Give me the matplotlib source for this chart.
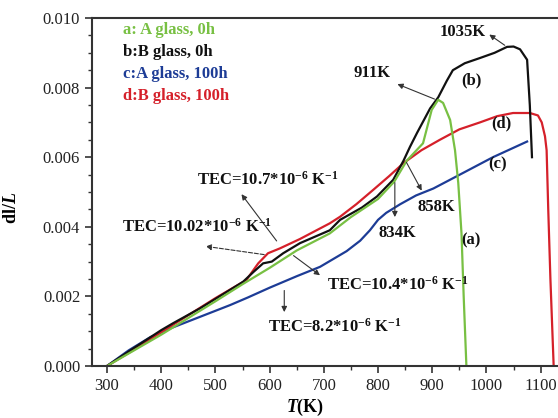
import matplotlib
matplotlib.use("Agg")
import matplotlib.pyplot as plt
from matplotlib.ticker import MultipleLocator, FormatStrFormatter

plt.rcParams['font.family'] = ['Liberation Serif', 'DejaVu Serif']
plt.rcParams['mathtext.fontset'] = 'custom'
plt.rcParams['mathtext.rm'] = 'Liberation Serif:bold'
plt.rcParams['mathtext.it'] = 'Liberation Serif:italic:bold'
plt.rcParams['mathtext.bf'] = 'Liberation Serif:bold'

# ---- data ----
T_a = [300, 350, 400, 450, 500, 550, 600, 650, 711, 750, 800, 830, 853, 877, 883, 899, 911, 920, 933, 942, 948, 954, 958, 963]
L_a = [0, 0.00045, 0.0009, 0.00138, 0.00186, 0.00235, 0.00282, 0.00332, 0.00381, 0.00428, 0.0048, 0.0053, 0.0059, 0.0063, 0.0064, 0.00736, 0.00765, 0.00756, 0.00707, 0.0062, 0.00526, 0.0038, 0.002, 0.0]

T_b = [300, 350, 400, 422, 472, 520, 551, 570, 588, 604, 625, 656, 711, 730, 770, 798, 828, 847, 859, 872, 896, 911, 927, 938, 960, 988, 1015, 1038, 1050, 1062, 1075, 1080, 1084]
L_b = [0, 0.00052, 0.00103, 0.00123, 0.00166, 0.00212, 0.00242, 0.0027, 0.00295, 0.003, 0.00324, 0.00353, 0.0039, 0.0042, 0.00455, 0.00487, 0.00535, 0.0059, 0.0063, 0.0067, 0.0074, 0.00772, 0.0082, 0.0085, 0.0087, 0.00885, 0.009, 0.00917, 0.00918, 0.0091, 0.0088, 0.0075, 0.006]

T_c = [300, 340, 380, 420, 453, 527, 560, 600, 650, 693, 742, 767, 785, 800, 815, 841, 870, 902, 951, 1012, 1075]
L_c = [0, 0.00045, 0.00083, 0.0011, 0.0013, 0.00175, 0.00197, 0.00225, 0.00258, 0.00285, 0.0033, 0.0036, 0.0039, 0.0042, 0.0044, 0.00465, 0.0049, 0.0051, 0.0055, 0.006, 0.00645]

T_d = [300, 350, 400, 450, 500, 557, 579, 597, 619, 656, 711, 730, 760, 791, 820, 847, 880, 914, 950, 988, 1020, 1049, 1080, 1095, 1102, 1108, 1111, 1114, 1118, 1124]
L_d = [0, 0.00047, 0.00097, 0.00146, 0.00195, 0.00247, 0.00295, 0.00324, 0.00338, 0.00365, 0.0041, 0.00429, 0.00465, 0.00506, 0.00545, 0.00583, 0.0062, 0.0065, 0.0068, 0.007, 0.00718, 0.00727, 0.00727, 0.0072, 0.007, 0.0066, 0.0062, 0.0045, 0.0025, 0.0]

legend_labels = ["a: A glass, 0h", "b:B glass, 0h", "c:A glass, 100h", "d:B glass, 100h"]
x_ticks = [300, 400, 500, 600, 700, 800, 900, 1000, 1100]
y_ticks = [0.000, 0.002, 0.004, 0.006, 0.008, 0.010]

c_green = '#78c043'
c_black = '#111111'
c_blue = '#1d3c96'
c_red = '#d5202a'

fig = plt.figure(figsize=(5.58, 4.18), dpi=100)
ax = fig.add_axes([92/558, 1-366/418, 1-92/558, (366-18)/418])

ax.plot(T_c, L_c, color=c_blue, lw=1.6)
ax.plot(T_d, L_d, color=c_red, lw=1.6)
ax.plot(T_b, L_b, color=c_black, lw=1.6)
ax.plot(T_a, L_a, color=c_green, lw=1.6)

ax.set_xlim(272.3, 1132)
ax.set_ylim(0, 0.010)
ax.set_xticks(x_ticks)
ax.set_yticks(y_ticks)
ax.xaxis.set_minor_locator(MultipleLocator(50))
ax.yaxis.set_minor_locator(MultipleLocator(0.0005))
ax.yaxis.set_major_formatter(FormatStrFormatter('%.3f'))
ax.tick_params(which='major', direction='out', length=5, width=1.2, labelsize=12, colors='#333333', labelcolor='#222222')
ax.tick_params(which='minor', direction='out', length=3, width=1.0, colors='#333333')
for s in ['left', 'bottom', 'top']:
    ax.spines[s].set_linewidth(1.5)
    ax.spines[s].set_color('#333333')
ax.spines['right'].set_visible(False)

ax.set_ylabel(r'dl/$\mathit{L}$', fontsize=13, fontweight='bold')
ax.yaxis.set_label_coords(-0.155, 0.455)
ax.set_xlabel(r'$\mathit{T}$(K)', fontsize=13, fontweight='bold')
ax.xaxis.set_label_coords(0.457, -0.088)

# legend-like texts
cols = [c_green, c_black, c_blue, c_red]
ys = [0.966, 0.902, 0.84, 0.775]
for lab, c, yy in zip(legend_labels, cols, ys):
    ax.text(0.066, yy, lab, transform=ax.transAxes, color=c, fontsize=12,
            fontweight='bold', va='center', ha='left')

tk = dict(fontsize=12, fontweight='bold', color='#111111', ha='center', va='center')
arw = dict(arrowstyle='-|>', color='#333333', lw=0.8, mutation_scale=8)

# peak labels
ax.text(957, 0.0096, '1035K', **tk)
ax.annotate('', xy=(1001, 0.00957), xytext=(1038, 0.00917), arrowprops=arw)
ax.text(789, 0.00842, '911K', **tk)
ax.annotate('', xy=(831, 0.00813), xytext=(909, 0.00764), arrowprops=arw)
ax.text(907, 0.00457, '858K', **tk)
ax.annotate('', xy=(883, 0.00497), xytext=(850, 0.00592), arrowprops=arw)
ax.text(835, 0.00382, '834K', **tk)
ax.annotate('', xy=(831, 0.0042), xytext=(831, 0.00535), arrowprops=arw)

# curve identifiers
ax.text(972, 0.00822, '(b)', **tk)
ax.text(1027, 0.00698, '(d)', **tk)
ax.text(1021, 0.00578, '(c)', **tk)
ax.text(972, 0.00362, '(a)', **tk)

# TEC labels
sup6 = r'$^{\mathrm{-6}}$'
sup1 = r'$^{\mathrm{-1}}$'
ax.text(597, 0.00535, 'TEC=10.7*10' + sup6 + ' K' + sup1, **tk)
ax.annotate('', xy=(545, 0.005), xytext=(616, 0.00353), arrowprops=arw)
ax.text(466, 0.0040, 'TEC=10.02*10' + sup6 + ' K' + sup1, **tk)
ax.annotate('', xy=(477, 0.00345), xytext=(595, 0.00319),
            arrowprops=dict(arrowstyle='-|>', color='#333333', lw=0.8, mutation_scale=8, linestyle='--'))
ax.text(837, 0.00233, 'TEC=10.4*10' + sup6 + ' K' + sup1, **tk)
ax.annotate('', xy=(697, 0.00256), xytext=(640, 0.00322), arrowprops=arw)
ax.text(721, 0.00112, 'TEC=8.2*10' + sup6 + ' K' + sup1, **tk)
ax.annotate('', xy=(627, 0.00147), xytext=(627, 0.00225), arrowprops=arw)

fig.savefig('out.png', dpi=100)
